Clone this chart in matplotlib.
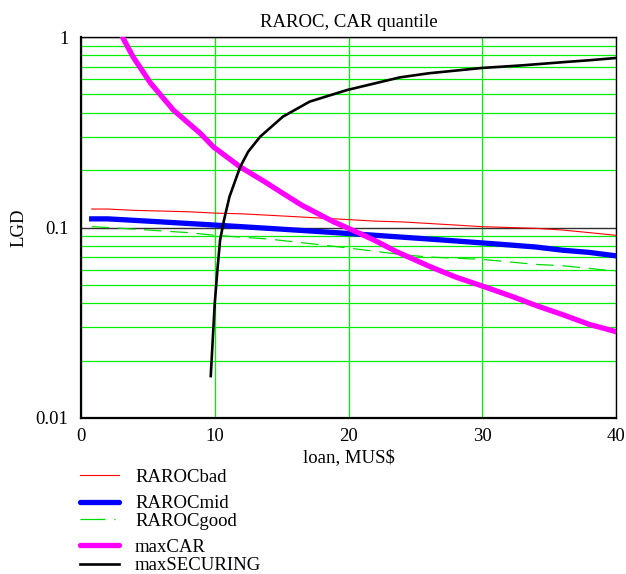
import numpy as np
import matplotlib.pyplot as plt
from matplotlib.lines import Line2D
from matplotlib.ticker import FixedLocator, NullFormatter

plt.rcParams['font.family'] = ['Liberation Serif', 'DejaVu Serif']
plt.rcParams['mathtext.default'] = 'regular'

# RAROC curves (loan, MUS$ -> LGD)
x_raroc = [0.8, 2, 4, 6, 8, 10, 12, 14, 16, 18, 20, 22, 24, 26, 28, 30, 32, 34, 36, 38, 40]
raroc_bad = [0.125, 0.125, 0.123, 0.122, 0.121, 0.119, 0.118, 0.116, 0.114, 0.112, 0.110,
             0.108, 0.107, 0.105, 0.103, 0.101, 0.100, 0.099, 0.097, 0.094, 0.091]
raroc_mid = [0.111, 0.111, 0.109, 0.107, 0.105, 0.103, 0.101, 0.099, 0.097, 0.095, 0.093,
             0.091, 0.089, 0.087, 0.085, 0.083, 0.081, 0.079, 0.076, 0.074, 0.071]
raroc_good = [0.101, 0.100, 0.098, 0.096, 0.094, 0.091, 0.089, 0.087, 0.084, 0.081, 0.078,
              0.075, 0.072, 0.070, 0.069, 0.068, 0.066, 0.064, 0.063, 0.061, 0.059]

x_car = [3.0, 3.9, 5.2, 6.9, 8.2, 8.9, 9.9, 11.9, 13.9, 15.1, 16.5, 18.9, 20, 21.9, 23.6,
         26.1, 28, 30, 32.3, 34, 36.1, 38, 40]
max_car = [1.03, 0.785, 0.573, 0.414, 0.345, 0.313, 0.265, 0.208, 0.171, 0.151, 0.131, 0.107,
           0.099, 0.086, 0.0746, 0.0623, 0.055, 0.0493, 0.0433, 0.039, 0.0347, 0.031, 0.0284]

x_sec = [9.7, 10.0, 10.2, 10.4, 10.7, 11.1, 11.9, 12.5, 13.4, 15.1, 17.1, 19.9, 23.85, 26,
         30, 33, 36.3, 38, 40]
max_sec = [0.0166, 0.040, 0.060, 0.086, 0.11, 0.145, 0.208, 0.25, 0.300, 0.382, 0.458, 0.527,
           0.614, 0.645, 0.688, 0.71, 0.74, 0.755, 0.776]

fs = 13.5
W, H = 626, 574
fig = plt.figure(figsize=(W / 100, H / 100), dpi=100)
ax = fig.add_axes([81 / W, 1 - 418 / H, (616 - 81) / W, (418 - 37) / H])

dash = (0, (14, 7))
ax.plot(x_raroc, raroc_bad, color='#ff0000', lw=0.8, zorder=3)
ax.plot(x_raroc, raroc_mid, color='#0000ff', lw=3.8, zorder=3)
ax.plot(x_raroc, raroc_good, color='#00dd00', lw=0.9, ls=dash, zorder=3)
ax.plot(x_car, max_car, color='#ff00ff', lw=3.8, zorder=4)
ax.plot(x_sec, max_sec, color='black', lw=1.9, zorder=4)

ax.set_yscale('log')
ax.set_xlim(0, 40)
ax.set_ylim(0.01, 1)
ax.set_xticks([0, 10, 20, 30, 40])
ax.yaxis.set_major_locator(FixedLocator([0.01, 0.1, 1]))
ax.set_yticklabels(['0.01', '0.1', '1'])
ax.yaxis.set_minor_locator(FixedLocator([k * 10.0 ** e for e in (-2, -1) for k in range(2, 10)]))
ax.yaxis.set_minor_formatter(NullFormatter())
ax.tick_params(which='both', length=0, labelsize=fs)
ax.tick_params(axis='x', pad=7)
ax.tick_params(axis='y', pad=9)

ax.grid(axis='x', color='#00ee00', lw=0.9)
ax.grid(axis='y', which='minor', color='#00ee00', lw=0.9)
ax.grid(axis='y', which='major', color='#303030', lw=1.0)
ax.set_axisbelow(True)

for side in ('left', 'bottom'):
    ax.spines[side].set_linewidth(1.6)
for side in ('top', 'right'):
    ax.spines[side].set_linewidth(1.0)

ax.set_title('RAROC, CAR quantile', fontsize=fs, pad=7)
ax.set_xlabel('loan, MUS$', fontsize=fs, labelpad=3)
ax.set_ylabel('LGD', fontsize=fs, labelpad=6)

# legend block below the plot
legend_items = [
    ('RAROCbad', dict(color='#ff0000', lw=0.8), 475, 478),
    ('RAROCmid', dict(color='#0000ff', lw=3.8, solid_capstyle='round'), 502, 503),
    ('RAROCgood', dict(color='#00dd00', lw=0.9, ls=(0, (20, 7, 1, 4))), 519, 521),
    ('maxCAR', dict(color='#ff00ff', lw=3.8, solid_capstyle='round'), 545, 548),
    ('maxSECURING', dict(color='black', lw=1.9), 564, 566),
]
for label, style, ly, ty in legend_items:
    fig.add_artist(Line2D([80 / W, 119 / W], [1 - ly / H, 1 - ly / H], transform=fig.transFigure, **style))
    fig.text(135 / W, 1 - ty / H, label, fontsize=fs, va='center', ha='left')

fig.savefig('out.png', dpi=100)
